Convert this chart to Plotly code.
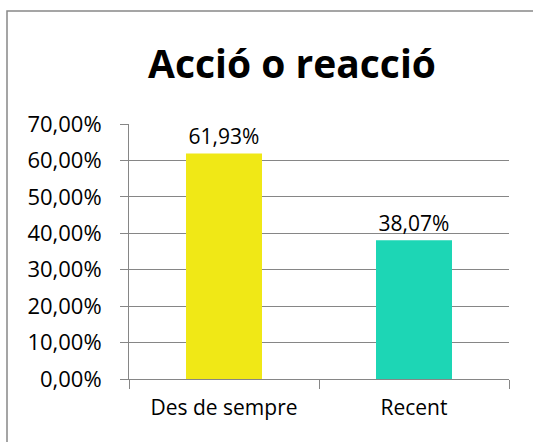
import plotly.graph_objects as go

categories = ["Des de sempre", "Recent"]
values = [0.6193, 0.3807]
colors = ["#F0E816", "#1DD6B5"]
title = "Acció o reacció"

fig = go.Figure()
fig.add_trace(go.Bar(
    x=categories, y=values, marker=dict(color=colors, line=dict(width=0)),
    width=0.4, text=values, texttemplate="%{y:.2%}", textposition="outside",
    textfont=dict(size=21, color="#000000"), cliponaxis=False,
))

W, H = 533, 442
l, r, t, b = 129, 24, 124, 63
pw, ph = W - l - r, H - t - b

def px2x(p):
    return (p - l) / pw

def py2y(p):
    return (H - b - p) / ph

fig.update_layout(
    width=W, height=H, margin=dict(l=l, r=r, t=t, b=b),
    paper_bgcolor="white", plot_bgcolor="white",
    separators=",.", showlegend=False,
    font=dict(family="Open Sans, sans-serif", size=21, color="#000000"),
    title=dict(text="<b>" + title + "</b>", x=292 / W, xref="container", xanchor="center",
               y=1 - 64 / H, yanchor="middle", font=dict(size=39, color="#000000")),
    xaxis=dict(showline=True, linecolor="#868686", linewidth=1, ticks="outside",
               tickson="boundaries", ticklen=9, tickcolor="#868686",
               tickfont=dict(size=21), showgrid=False, ticklabelstandoff=10),
    yaxis=dict(range=[0, 0.7], dtick=0.1, tickformat=".2%", showline=True,
               linecolor="#868686", linewidth=1, ticks="outside", ticklen=8,
               tickcolor="#868686", gridcolor="#868686", gridwidth=1,
               tickfont=dict(size=22), zeroline=False, ticklabelstandoff=14),
    bargap=0.6,
    shapes=[dict(type="rect", xref="paper", yref="paper",
                 x0=px2x(7), x1=px2x(545), y0=py2y(460), y1=py2y(11),
                 line=dict(color="#888888", width=1.5), fillcolor="rgba(0,0,0,0)",
                 layer="below")],
)
fig.write_html("out.html", config={"displayModeBar": False},
               post_script="document.body.style.margin='0';document.body.style.padding='0';")
